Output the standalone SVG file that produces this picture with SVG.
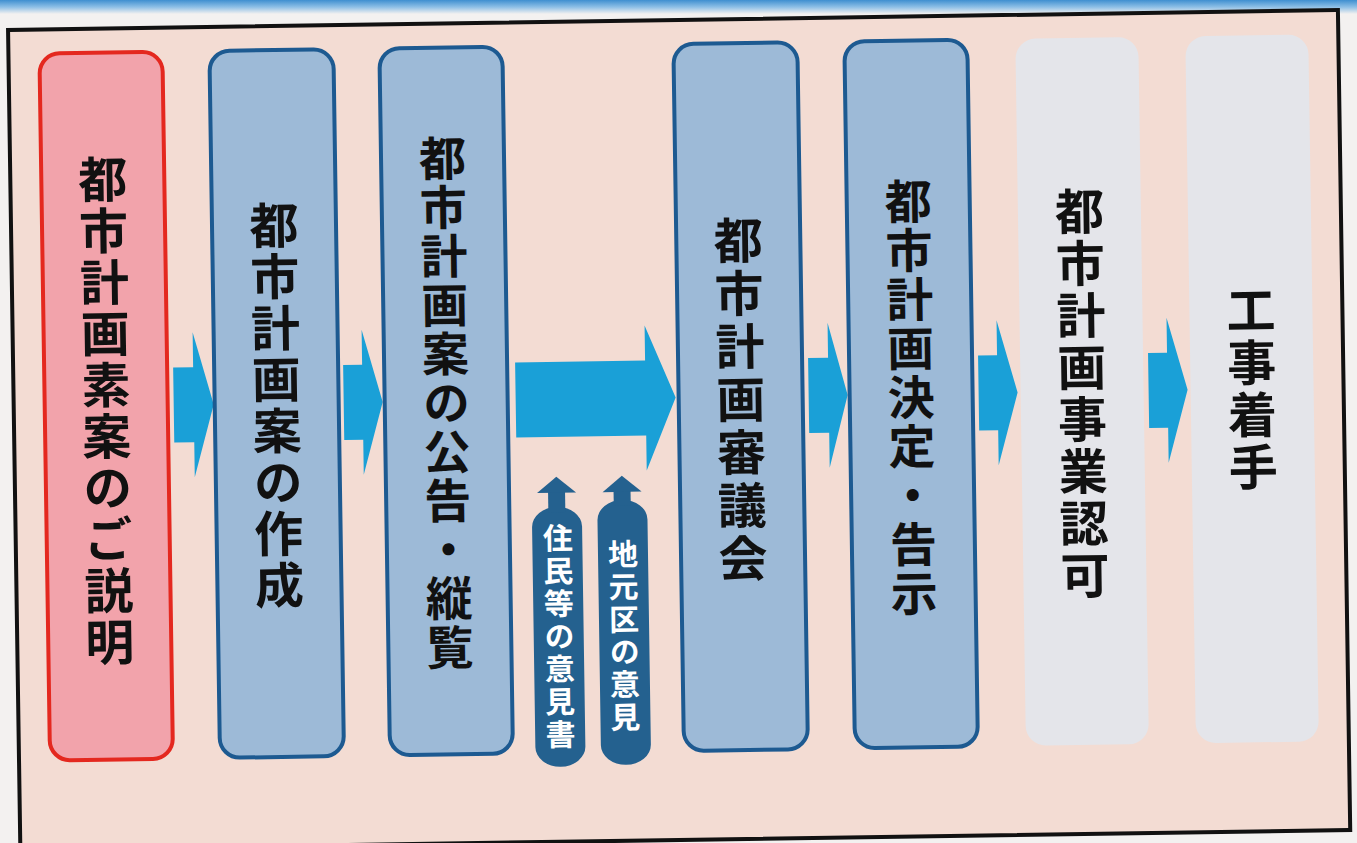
<svg xmlns="http://www.w3.org/2000/svg" width="1357" height="843" viewBox="0 0 1357 843">
  <style>
    .lbl { font-family: "Noto Sans CJK JP", "Noto Sans", sans-serif; font-weight: 700; font-size: 49px; fill: #111; text-anchor: middle; writing-mode: vertical-rl; }
    .cap { font-family: "Noto Sans CJK JP", "Noto Sans", sans-serif; font-weight: 700; font-size: 30px; fill: #ffffff; text-anchor: middle; writing-mode: vertical-rl; }
    .pink { fill: #f2a3ab; stroke: #e4281f; stroke-width: 4; }
    .blue { fill: #9dbad7; stroke: #1d5a91; stroke-width: 4; }
    .gray { fill: #e4e5ea; stroke: none; }
    .arrow { fill: #1aa0d7; }
    .capsule { fill: #24618f; }
  </style>
  <defs>
    <linearGradient id="topband" x1="0" y1="0" x2="0" y2="1">
      <stop offset="0" stop-color="#3f8fd0"/>
      <stop offset="0.5" stop-color="#8dbfe6"/>
      <stop offset="1" stop-color="#f3f1f0"/>
    </linearGradient>
  </defs>
  <rect x="0" y="0" width="1357" height="843" fill="#f3f1f0"/>
  <rect x="0" y="0" width="1357" height="14" fill="url(#topband)"/>

  <g transform="rotate(-0.86 678 421)">
    <g id="frame">
      <rect x="14" y="20" width="1330" height="820" fill="#f3dcd3" stroke="#111" stroke-width="4"/>
    </g>

    <g id="connectors">
      <path class="arrow" d="M174,360 H194 V325 L214,397.5 L194,470 V435 H174 Z"/>
      <path class="arrow" d="M344,360 H363 V325 L383,397.5 L363,470 V435 H344 Z"/>
      <path class="arrow" d="M516,360 H646 V325 L676,397.5 L646,470 V435 H516 Z"/>
      <path class="arrow" d="M809,360 H829 V325 L848,397.5 L829,470 V435 H809 Z"/>
      <path class="arrow" d="M979,360 H998 V325 L1018,397.5 L998,470 V435 H979 Z"/>
      <path class="arrow" d="M1149,360 H1168 V325 L1188,397.5 L1168,470 V435 H1149 Z"/>
    </g>

    <g id="node1">
      <rect class="pink" x="45" y="44" width="123" height="707" rx="20"/>
      <text class="lbl" x="106.5" y="403" style="letter-spacing:2.4px">都市計画素案のご説明</text>
    </g>

    <g id="node2">
      <rect class="blue" x="215" y="44" width="124" height="707" rx="20"/>
      <text class="lbl" x="277" y="400" style="letter-spacing:2.4px">都市計画案の作成</text>
    </g>

    <g id="node3">
      <rect class="blue" x="385" y="44" width="123" height="707" rx="20"/>
      <text class="lbl" x="446.5" y="400" style="font-size:47px;letter-spacing:1.9px">都市計画案の公告・縦覧</text>
    </g>

    <g id="opinion1">
      <rect class="capsule" x="530.5" y="505" width="50" height="260" rx="25" ry="20"/>
      <rect class="capsule" x="547" y="489" width="17" height="22"/>
      <polygon class="capsule" points="536,491 555.5,475 575,491"/>
      <text class="cap" x="556" y="635.6" style="letter-spacing:2.7px">住民等の意見書</text>
    </g>

    <g id="opinion2">
      <rect class="capsule" x="596" y="499" width="50" height="265" rx="25" ry="20"/>
      <rect class="capsule" x="612.5" y="489" width="17" height="16"/>
      <polygon class="capsule" points="601.5,491 621,475 640.5,491"/>
      <text class="cap" x="621" y="635.8" style="letter-spacing:2.6px">地元区の意見</text>
    </g>

    <g id="node4">
      <rect class="blue" x="679" y="44" width="124" height="707" rx="20"/>
      <text class="lbl" x="741" y="402" style="letter-spacing:4px">都市計画審議会</text>
    </g>

    <g id="node5">
      <rect class="blue" x="850" y="44" width="123" height="707" rx="20"/>
      <text class="lbl" x="911.5" y="401.5" style="font-size:47px;letter-spacing:2px">都市計画決定・告示</text>
    </g>

    <g id="node6">
      <rect class="gray" x="1021" y="44" width="123" height="707" rx="20"/>
      <text class="lbl" x="1082.5" y="400.5" style="letter-spacing:3px">都市計画事業認可</text>
    </g>

    <g id="node7">
      <rect class="gray" x="1191" y="44" width="123" height="707" rx="20"/>
      <text class="lbl" x="1252.5" y="398.6" style="letter-spacing:3.3px">工事着手</text>
    </g>
  </g>
</svg>
